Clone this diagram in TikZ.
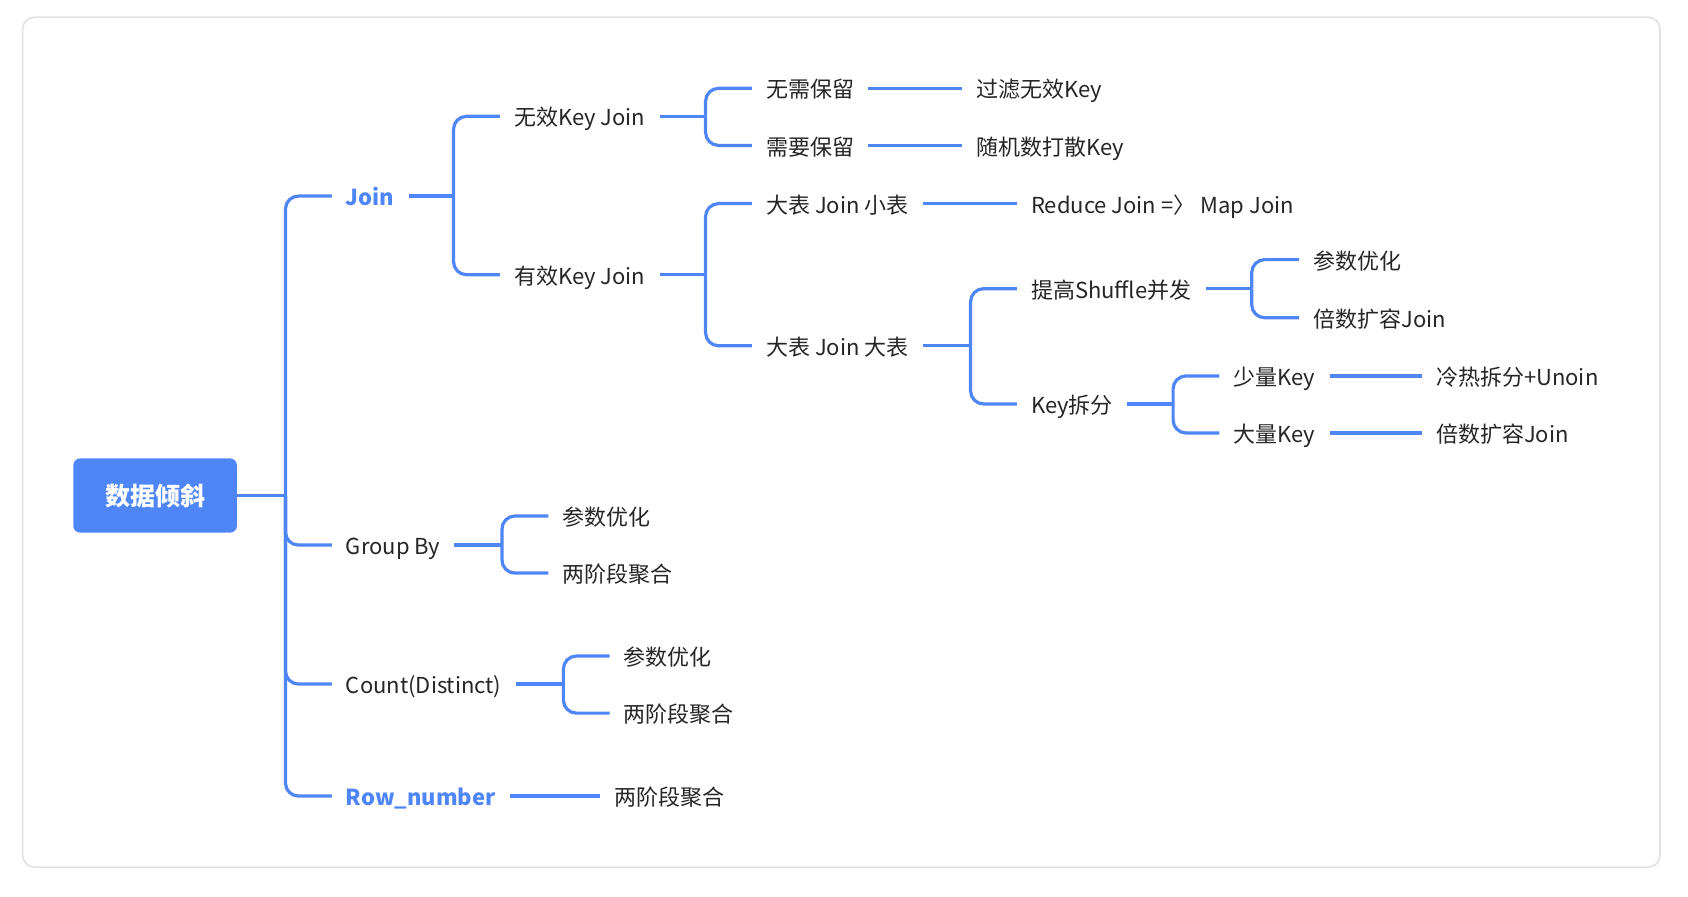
\documentclass[tikz,border=0pt]{standalone}
\usepackage{fontspec}
\setmainfont{Noto Sans CJK SC}
\definecolor{mblue}{HTML}{4F86F7}
\definecolor{mtext}{HTML}{262626}
\definecolor{mframe}{HTML}{E2E2E6}
\begin{document}
\begin{tikzpicture}[x=1.0772pt,y=-1.0772pt,
  lbl/.style={anchor=west, inner sep=0pt, text=mtext, font=\fontsize{22}{26}\selectfont, text height=21.6pt, text depth=2.4pt},
  hl/.style={text=mblue, font=\fontsize{22}{26}\selectfont\bfseries},
  rootbox/.style={fill=mblue, rounded corners=7pt, minimum width=163.7pt, minimum height=74.3pt, inner sep=0pt, text=white, font=\fontsize{25}{28}\selectfont\bfseries},
  conn/.style={draw=mblue, line width=3.2pt},
  br/.style={conn, rounded corners=13pt},
  gp/.style={xshift=14pt},
  gm/.style={xshift=-14pt}]
\path[use as bounding box, fill=white] (0,0) rectangle (1567,831.8);
\draw[mframe, line width=1.6pt, rounded corners=12pt] (21,16) rectangle (1541,805);

% nodes
\node[rootbox] (root) at (144,460) {数据倾斜};
\node[lbl,hl] (join) at (321,182) {Join};
\node[lbl] (gb) at (321,506) {Group By};
\node[lbl] (cd) at (321,635) {Count(Distinct)};
\node[lbl,hl] (rn) at (321,739) {Row\_number};

\node[lbl] (wx) at (477,108) {无效Key Join};
\node[lbl] (yx) at (477,255) {有效Key Join};
\node[lbl] (n1) at (711,82) {无需保留};
\node[lbl] (n2) at (711,135) {需要保留};
\node[lbl] (n1c) at (906,82) {过滤无效Key};
\node[lbl] (n2c) at (906,135) {随机数打散Key};
\node[lbl] (s1) at (711,189) {大表 Join 小表};
\node[lbl] (s1c) at (957,189) {Reduce Join =〉 Map Join};
\node[lbl] (s2) at (711,321) {大表 Join 大表};
\node[lbl] (sh) at (957,268) {提高Shuffle并发};
\node[lbl] (ksp) at (957,375) {Key拆分};
\node[lbl] (p1) at (1219,241) {参数优化};
\node[lbl] (p2) at (1219,295) {倍数扩容Join};
\node[lbl] (k1) at (1145,349) {少量Key};
\node[lbl] (k2) at (1145,402) {大量Key};
\node[lbl] (k1c) at (1333,349) {冷热拆分+Unoin};
\node[lbl] (k2c) at (1333,402) {倍数扩容Join};
\node[lbl] (g1) at (522,479) {参数优化};
\node[lbl] (g2) at (522,532) {两阶段聚合};
\node[lbl] (c1) at (579,609) {参数优化};
\node[lbl] (c2) at (579,662) {两阶段聚合};
\node[lbl] (rc) at (570,739) {两阶段聚合};

% fork points
\coordinate (f0) at (265,460);
\coordinate (fj) at (421,182);
\coordinate (fw) at (655,108);
\coordinate (fy) at (655,255);
\coordinate (fb) at (901,321);
\coordinate (fs) at (1162,268);
\coordinate (fk) at (1089,375);
\coordinate (fg) at (466,506);
\coordinate (fc) at (523,635);

% root
\draw[conn] (root.east) -- (f0);
\foreach \c in {join,gb,cd,rn} \draw[br] (f0) |- ([gm]\c.west);
% join
\draw[conn] ([gp]join.east) -- (fj);
\foreach \c in {wx,yx} \draw[br] (fj) |- ([gm]\c.west);
\draw[conn] ([gp]wx.east) -- (fw);
\foreach \c in {n1,n2} \draw[br] (fw) |- ([gm]\c.west);
\draw[conn] ([gp]n1.east) -- ([gm]n1c.west);
\draw[conn] ([gp]n2.east) -- ([gm]n2c.west);
\draw[conn] ([gp]yx.east) -- (fy);
\foreach \c in {s1,s2} \draw[br] (fy) |- ([gm]\c.west);
\draw[conn] ([gp]s1.east) -- ([gm]s1c.west);
\draw[conn] ([gp]s2.east) -- (fb);
\foreach \c in {sh,ksp} \draw[br] (fb) |- ([gm]\c.west);
\draw[conn] ([gp]sh.east) -- (fs);
\foreach \c in {p1,p2} \draw[br] (fs) |- ([gm]\c.west);
\draw[conn] ([gp]ksp.east) -- (fk);
\foreach \c in {k1,k2} \draw[br] (fk) |- ([gm]\c.west);
\draw[conn] ([gp]k1.east) -- ([gm]k1c.west);
\draw[conn] ([gp]k2.east) -- ([gm]k2c.west);
% group by
\draw[conn] ([gp]gb.east) -- (fg);
\foreach \c in {g1,g2} \draw[br] (fg) |- ([gm]\c.west);
% count distinct
\draw[conn] ([gp]cd.east) -- (fc);
\foreach \c in {c1,c2} \draw[br] (fc) |- ([gm]\c.west);
% row number
\draw[conn] ([gp]rn.east) -- ([gm]rc.west);
\end{tikzpicture}
\end{document}
